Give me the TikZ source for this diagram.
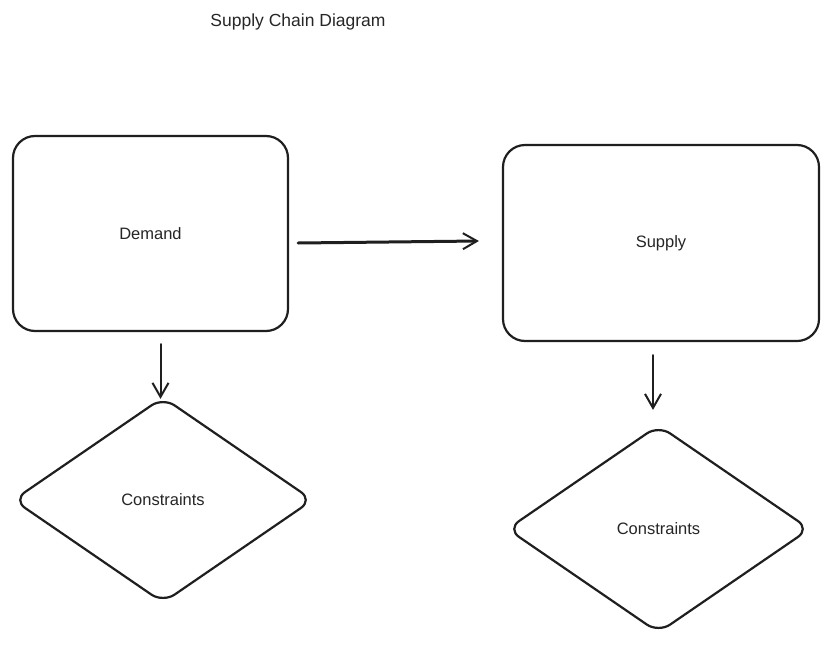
\documentclass[tikz,border=0pt]{standalone}
\usepackage{fontspec}
\setmainfont{Liberation Sans}
\usetikzlibrary{shapes.geometric,arrows.meta}
\begin{document}
\begin{tikzpicture}[x=1pt,y=-1pt,
  lbl/.style={font=\fontsize{16.5}{19}\selectfont, text=black!85},
  boxnode/.style={draw=black!88, line width=2.2pt, rounded corners=22pt, inner sep=0pt, fill=white, lbl},
  decnode/.style={draw=black!88, line width=2.2pt, diamond, rounded corners=14pt, inner sep=0pt, fill=white, lbl},
  arr/.style={draw=black!88, line width=2pt, line cap=round, -{Straight Barb[length=14pt,width=16pt,line width=2pt]}},
  harr/.style={arr, line width=3pt}]
\useasboundingbox (0,0) rectangle (829,645);
\node[lbl, font=\fontsize{17.5}{20}\selectfont] (title) at (298,22) {Supply Chain Diagram};
\node[boxnode, minimum width=275pt, minimum height=195pt] (demand) at (150.5,233.5) {Demand};
\node[boxnode, minimum width=316pt, minimum height=196pt] (supply) at (661,243) {Supply};
\node[decnode, minimum width=300pt, minimum height=206pt] (c1) at (163,500) {Constraints};
\node[decnode, minimum width=303pt, minimum height=208pt] (c2) at (658.5,529) {Constraints};
\draw[harr] ([xshift=9pt,yshift=-9.5pt]demand.east) -- ([xshift=-23pt,yshift=2pt]supply.west);
\draw[arr] ([xshift=10pt,yshift=-12pt]demand.south) -- ([xshift=-2.5pt,yshift=-3pt]c1.north);
\draw[arr] ([xshift=-8pt,yshift=-13pt]supply.south) -- ([xshift=-5.5pt,yshift=14pt]c2.north);
\end{tikzpicture}
\end{document}
